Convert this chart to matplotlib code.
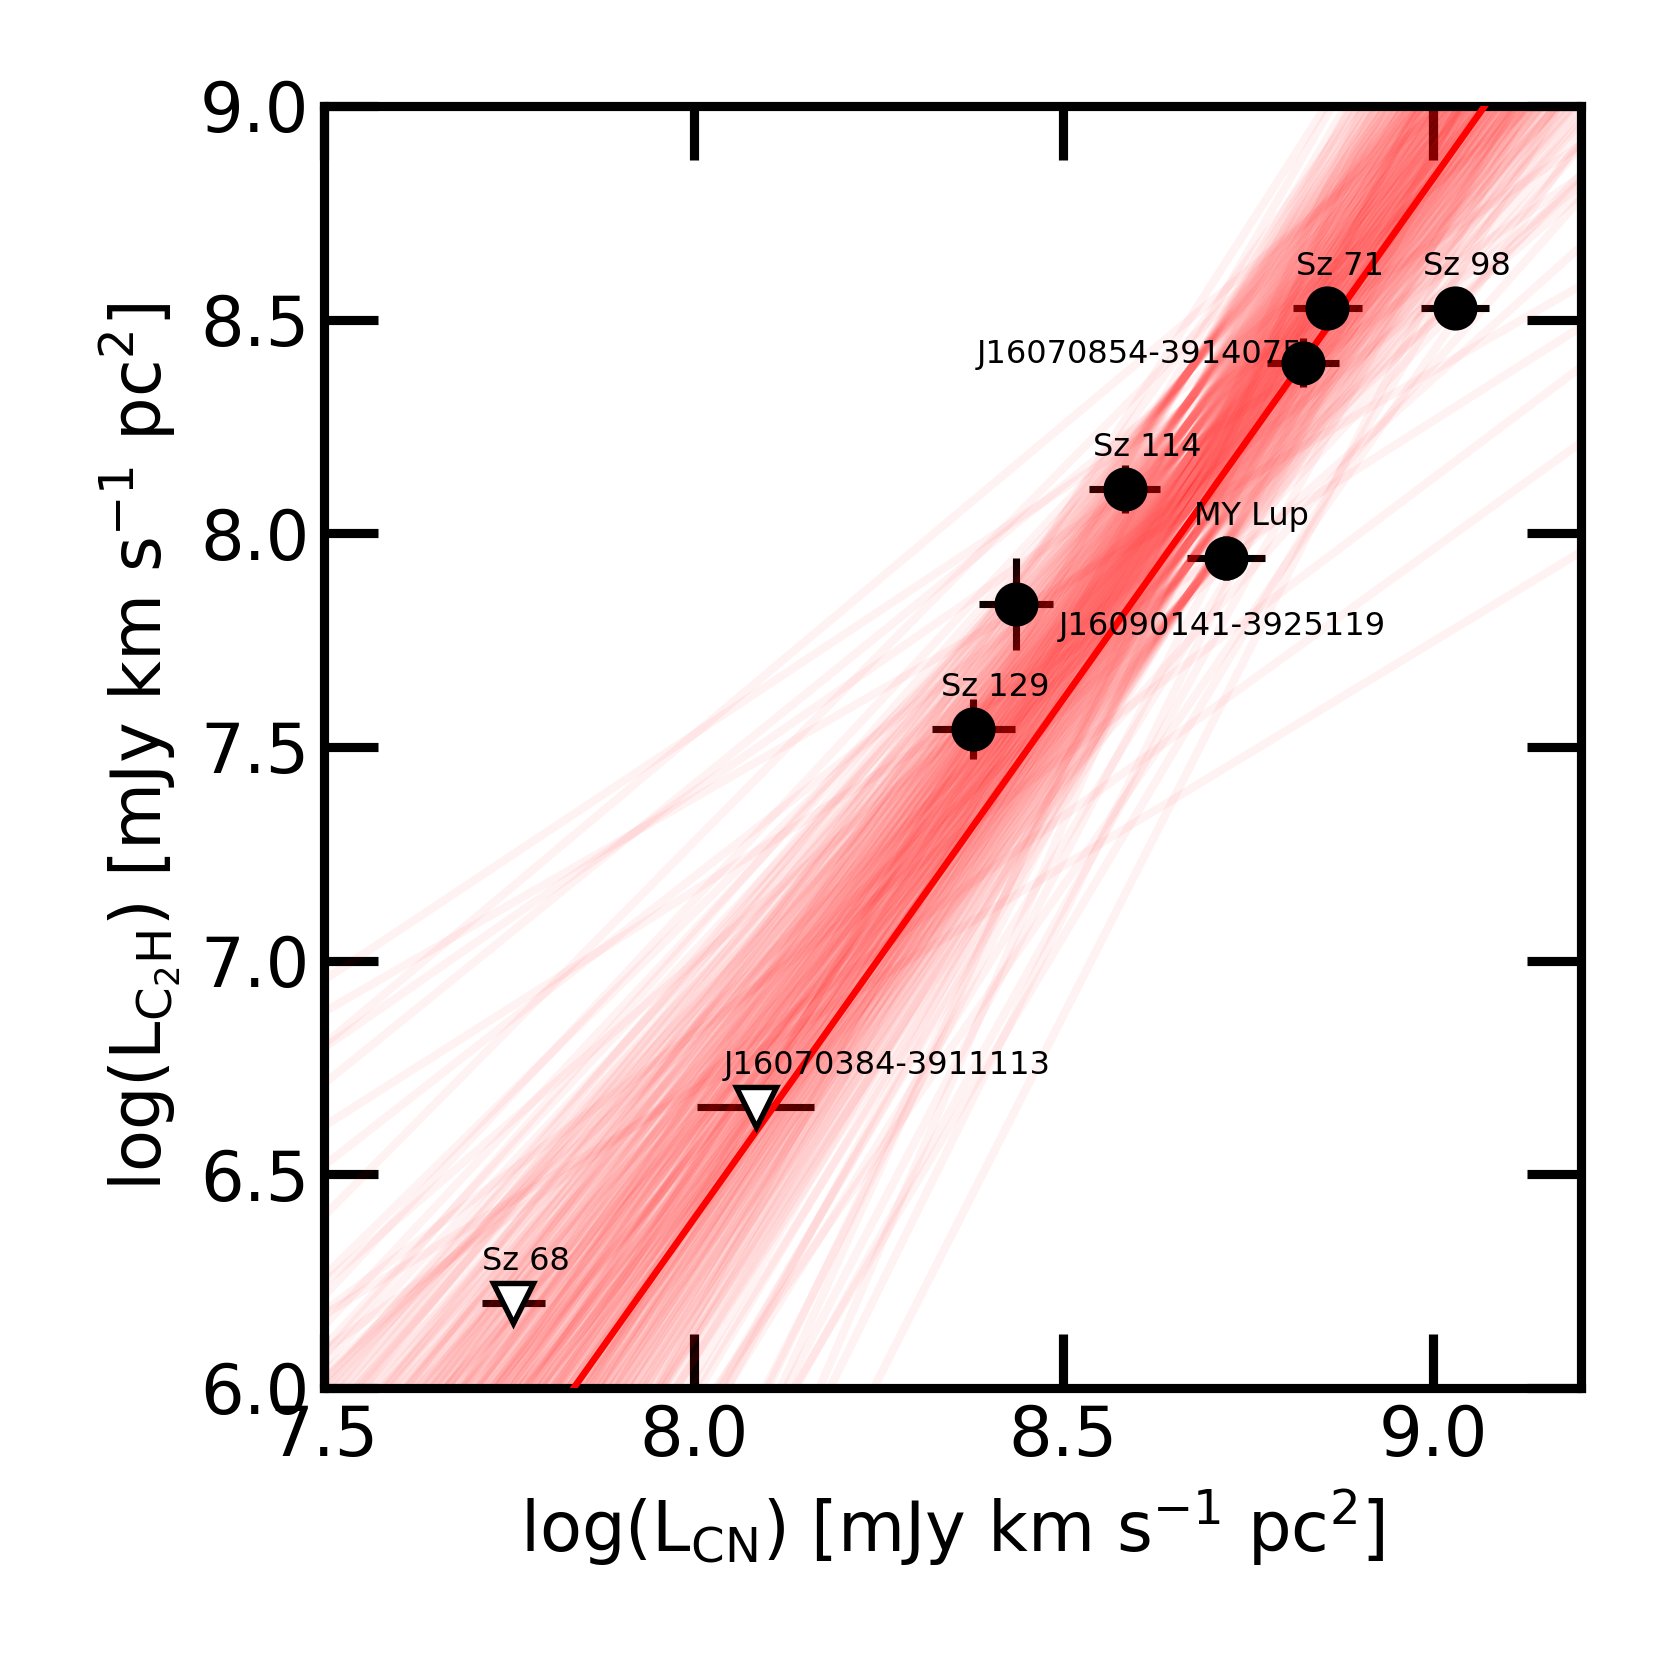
import numpy as np
import matplotlib
matplotlib.use("Agg")
import matplotlib.pyplot as plt

# sources: log L_CN, log L_C2H, errors
names = ["Sz 98", "Sz 71", "J16070854-3914075", "Sz 114", "MY Lup",
         "J16090141-3925119", "Sz 129", "J16070384-3911113", "Sz 68"]
log_cn = [9.030, 8.857, 8.824, 8.583, 8.720, 8.436, 8.378, 8.084, 7.756]
log_c2h = [8.527, 8.527, 8.399, 8.104, 7.942, 7.835, 7.542, 6.657, 6.199]
err_cn = [0.046, 0.047, 0.049, 0.048, 0.053, 0.050, 0.056, 0.079, 0.043]
err_c2h = [0.03, 0.03, 0.057, 0.056, 0.052, 0.108, 0.07, 0.0, 0.0]
upper_lim = [False, False, False, False, False, False, False, True, True]

# best fit: log L_C2H = slope * log L_CN + icpt
fit_slope = 2.435
fit_icpt = -13.085

# posterior draws: slope and value at the pivot x0
x0 = 8.67
core_slope = [1.85, 1.97, 2.06, 2.13, 2.19, 2.25, 2.30, 2.35, 2.41, 2.47,
              2.53, 2.60, 2.68, 2.78, 2.92]
core_y0 = [7.86, 7.93, 7.98, 8.02, 8.06, 8.09, 8.12, 8.15, 8.18, 8.22,
           8.26, 8.31, 8.38]
tail_slope = [1.00, 1.10, 1.20, 1.30, 1.40, 1.50, 1.25, 1.45, 1.05, 1.35,
              1.15, 1.55, 1.70, 1.80, 1.65, 1.75, 3.00, 3.20, 3.40, 3.60,
              3.80, 4.00, 3.30, 3.50, 2.80, 3.10, 2.50, 3.40, 2.60, 2.90,
              3.20, 2.40, 2.10, 2.70, 3.00, 1.95]
tail_y0 = [8.05, 7.90, 8.20, 7.70, 8.35, 8.00, 7.55, 8.50, 7.40, 8.10,
           8.30, 7.85, 8.25, 8.10, 7.95, 8.45, 7.90, 8.00, 7.95, 8.05,
           8.10, 8.00, 7.80, 7.70, 7.75, 7.65, 7.60, 7.45, 7.85, 7.55,
           8.30, 8.45, 8.38, 8.50, 8.42, 7.75]

# label offsets (data units) and alignment
lab_dx = [-0.043, -0.043, 0.0, -0.043, -0.043, 0.057, -0.043, -0.043, -0.043]
lab_dy = [0.077, 0.077, 0.0, 0.077, 0.077, -0.073, 0.077, 0.077, 0.077]
lab_ha = ["left", "left", "right", "left", "left", "left", "left", "left", "left"]

xlim = (7.5, 9.2)
ylim = (6.0, 9.0)

fig = plt.figure(figsize=(1661 / 300, 1661 / 300), dpi=300)
ax = fig.add_axes([0.1951, 0.1644, 0.7567, 0.7718])
ax.set_axisbelow(True)

# error bars first so the posterior lines tint them
ax.errorbar(log_cn, log_c2h, xerr=err_cn, yerr=err_c2h, fmt="none",
            ecolor="black", elinewidth=1.7, capsize=0, zorder=1)

xs = np.array([7.3, 9.4])
pairs = [(s, y0) for s in core_slope for y0 in core_y0]
pairs += list(zip(tail_slope, tail_y0))
for s, y0 in pairs:
    ax.plot(xs, y0 + s * (xs - x0), color="red", alpha=0.05, lw=2.0,
            solid_capstyle="butt", zorder=2)

xf = np.array(xlim)
ax.plot(xf, fit_slope * xf + fit_icpt, color="red", lw=1.6, zorder=3)

for i in range(len(names)):
    if upper_lim[i]:
        ax.plot(log_cn[i], log_c2h[i], "v", ms=9.5, mfc="white", mec="black",
                mew=1.3, zorder=4)
    else:
        ax.plot(log_cn[i], log_c2h[i], "o", ms=9.6, color="black", zorder=4)
    ax.text(log_cn[i] + lab_dx[i], log_c2h[i] + lab_dy[i], names[i],
            fontsize=7.7, ha=lab_ha[i], va="baseline", zorder=3.5)

ax.set_xlim(*xlim)
ax.set_ylim(*ylim)
ax.set_xticks([7.5, 8.0, 8.5, 9.0])
ax.set_yticks([6.0, 6.5, 7.0, 7.5, 8.0, 8.5, 9.0])
ax.set_xticklabels(["7.5", "8.0", "8.5", "9.0"])
ax.set_yticklabels(["6.0", "6.5", "7.0", "7.5", "8.0", "8.5", "9.0"])
ax.tick_params(direction="in", length=13, width=2.2, labelsize=16.5,
               top=True, right=True)
for sp in ax.spines.values():
    sp.set_linewidth(2.2)

ax.set_xlabel(r"log(L$_{\rm CN}$) [mJy km s$^{-1}$ pc$^2$]", fontsize=16.5)
ax.set_ylabel(r"log(L$_{\rm C_2H}$) [mJy km s$^{-1}$ pc$^2$]", fontsize=16.5)

fig.savefig("out.png", dpi=300)
